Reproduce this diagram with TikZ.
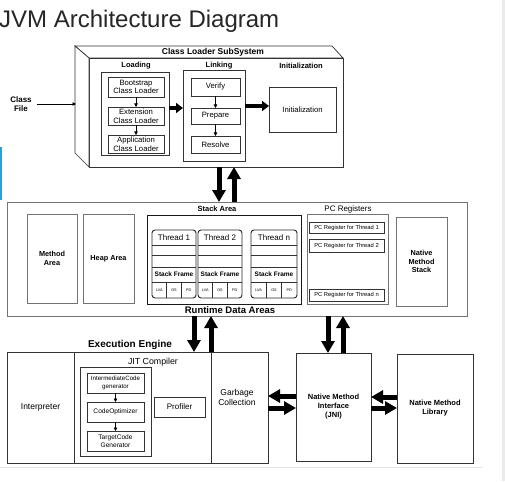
\documentclass[tikz,border=0pt]{standalone}
\usepackage{fontspec}
\setmainfont{Liberation Sans}
\usetikzlibrary{arrows.meta}
\definecolor{edgeblue}{RGB}{41,160,216}
% box from corners: [style]{name}{x1}{y1}{x2}{y2}{text}
\newcommand\bx[7][]{%
  \pgfmathsetmacro\bxcx{(#3+#5)/2}%
  \pgfmathsetmacro\bxcy{(#4+#6)/2}%
  \pgfmathsetmacro\bxw{#5-#3}%
  \pgfmathsetmacro\bxh{#6-#4}%
  \node[box,#1,minimum width=\bxw pt,minimum height=\bxh pt] (#2) at (\bxcx,\bxcy) {#7};%
}
\newcommand\jvmthread[4]{%
  \pgfmathsetmacro\tha{#2+(#3-#2)/3}%
  \pgfmathsetmacro\thb{#2+2*(#3-#2)/3}%
  \bx[row, font=\fontsize{8}{9}\selectfont]{#1h}{#2}{230}{#3}{245}{#4}
  \bx[row]{#1r1}{#2}{245}{#3}{255}{}
  \bx[row]{#1r2}{#2}{255}{#3}{267}{}
  \bx[row, font=\fontsize{6.5}{7}\selectfont\bfseries]{#1sf}{#2}{267}{#3}{282}{Stack Frame}
  \bx[row, font=\fontsize{3.8}{4}\selectfont]{#1a}{#2}{282}{\tha}{298}{LVA}
  \bx[row, font=\fontsize{3.8}{4}\selectfont]{#1b}{\tha}{282}{\thb}{298}{OS}
  \bx[row, font=\fontsize{3.8}{4}\selectfont]{#1c}{\thb}{282}{#3}{298}{PD}
  \draw[thinline] (#1h.south west) -- (#1h.south east);
  \draw[thinline] (#1r1.south west) -- (#1r1.south east);
  \draw[thinline] (#1r2.south west) -- (#1r2.south east);
  \draw[thinline] (#1sf.south west) -- (#1sf.south east);
  \draw[thinline] (#1a.north east) -- (#1a.south east);
  \draw[thinline] (#1b.north east) -- (#1b.south east);
  \draw[draw=black!85, line width=0.9pt, rounded corners=3pt] (#1h.north west) -- (#1a.south west) -- (#1c.south east) -- (#1h.north east) -- cycle;
}
\begin{document}
\begin{tikzpicture}[x=1pt,y=-1pt,
  box/.style={draw=black!80, line width=0.7pt, inner sep=0pt, outer sep=0pt, align=center, font=\fontsize{7.7}{8.6}\selectfont},
  gbox/.style={draw=black!55, line width=0.8pt, font=\fontsize{7.3}{8.7}\selectfont\bfseries},
  row/.style={draw=none},
  thinline/.style={draw=black!80, line width=0.6pt},
  lbl/.style={inner sep=0pt, align=center, font=\fontsize{7.5}{8.5}\selectfont\bfseries},
  txt/.style={inner sep=0pt, align=center, font=\fontsize{8.5}{10}\selectfont},
  bigarr/.style={line width=5pt, -{Triangle[width=13pt,length=12pt]}},
  midarr/.style={line width=4pt, -{Triangle[width=10pt,length=7pt]}},
  smarr/.style={line width=0.6pt, -{Triangle[width=3.5pt,length=3.5pt]}},
]
\useasboundingbox (0,0) rectangle (505,481);
\fill[white] (0,0) rectangle (505,481);
\fill[black!8] (502,0) rectangle (505,481);
\draw[black!10, line width=0.6pt] (0,467) -- (482,467);
\fill[edgeblue] (0,147) rectangle (2,200);

\node[anchor=base west, inner sep=0pt, font=\fontsize{24}{26}\selectfont, text=black!85] (title) at (-1,28) {JVM Architecture Diagram};

% ---------- Class loader subsystem ----------
\bx{cl}{89}{58}{343}{167}{}
\filldraw[fill=white, draw=black!80, line width=0.7pt] (75,46) -- (332,46) -- (cl.north east) -- (cl.north west) -- cycle;
\filldraw[fill=white, draw=black!80, line width=0.7pt] (75,46) -- (cl.north west) -- (cl.south west) -- (75,153) -- cycle;
\node[lbl, font=\fontsize{8.5}{9}\selectfont\bfseries] (clt) at (213,52) {Class Loader SubSystem};

\node[lbl] (loadt) at (136,66) {Loading};
\bx{loading}{101}{72}{169}{155}{}
\bx{boot}{108}{77}{164}{97}{Bootstrap\\Class Loader}
\bx{ext}{108}{107}{164}{125}{Extension\\Class Loader}
\bx{app}{108}{135}{164}{153}{Application\\Class Loader}
\draw[smarr] (boot) -- (ext);
\draw[smarr] (ext) -- (app);

\node[lbl] (linkt) at (219,66) {Linking};
\bx{linking}{183}{70}{245}{161}{}
\bx{verify}{191}{78}{240}{96}{Verify}
\bx{prepare}{191}{108}{240}{124}{Prepare}
\bx{resolve}{191}{136}{240}{153}{Resolve}
\draw[smarr] (verify) -- (prepare);
\draw[smarr] (prepare) -- (resolve);

\node[lbl] (initt) at (301,66) {Initialization};
\bx{init}{269}{87}{336}{132}{Initialization}

\draw[midarr] (loading.east |- 0,108) -- (linking.west |- 0,108);
\draw[midarr] (linking.east |- 0,106) -- (init.west |- 0,106);

\node[lbl, font=\fontsize{8}{9.5}\selectfont\bfseries] (cf) at (21,104) {Class\\File};
\coordinate (lf) at (76,104);
\draw[smarr] (37,104) -- (lf);

% ---------- Runtime data areas ----------
\bx[gbox]{rt}{7}{202}{467}{316}{}
\node[lbl, font=\fontsize{9.5}{11}\selectfont\bfseries] (rtt) at (230,310) {Runtime Data Areas};

\bx[gbox]{method}{27}{214}{77}{303}{Method\\Area}
\bx[gbox]{heap}{83}{214}{134}{303}{Heap Area}

\node[lbl] (stackt) at (217,209) {Stack Area};
\bx[draw=black!90]{stack}{147}{215}{301}{304}{}
\jvmthread{ta}{152}{196}{Thread 1}
\jvmthread{tb}{198}{242}{Thread 2}
\jvmthread{tc}{251}{297}{Thread n}

\node[lbl, font=\fontsize{8}{9}\selectfont] (pct) at (348,209) {PC Registers};
\bx[gbox]{pc}{307}{214}{388}{304}{}
\bx[font=\fontsize{5.8}{6.5}\selectfont]{pc1}{309}{222}{384}{233}{PC Register for Thread 1}
\bx[font=\fontsize{5.8}{6.5}\selectfont]{pc2}{309}{239}{384}{252}{PC Register for Thread 2}
\bx[font=\fontsize{5.8}{6.5}\selectfont]{pcn}{309}{289}{384}{301}{PC Register for Thread n}

\bx[gbox]{nms}{396}{217}{447}{306}{Native\\Method\\Stack}

\draw[bigarr] (cl.south -| 219,0) -- (rt.north -| 219,0);
\draw[bigarr] (rt.north -| 234,0) -- (cl.south -| 234,0);

% ---------- Execution engine ----------
\node[lbl, font=\fontsize{10}{12}\selectfont\bfseries] (eet) at (130,345) {Execution Engine};
\bx[font=\fontsize{8.5}{10}\selectfont]{interp}{7}{352}{74}{463}{Interpreter}
\bx{jit}{74}{352}{211}{463}{}
\bx{gc}{211}{352}{268}{463}{}
\node[txt] (gct) at (237,397) {Garbage\\Collection};
\node[txt, font=\fontsize{8.8}{10}\selectfont] (jitt) at (153,362) {JIT Compiler};
\bx{jitin}{80}{367}{151}{456}{}
\bx[font=\fontsize{6.2}{7.4}\selectfont]{icg}{87}{373}{144}{393}{IntermediateCode\\generator}
\bx[font=\fontsize{6.6}{7.6}\selectfont]{opt}{87}{402}{144}{422}{CodeOptimizer}
\bx[font=\fontsize{6.6}{7.6}\selectfont]{tcg}{87}{431}{144}{451}{TargetCode\\Generator}
\draw[smarr] (icg) -- (opt);
\draw[smarr] (opt) -- (tcg);
\bx[font=\fontsize{8}{9}\selectfont]{prof}{154}{397}{205}{417}{Profiler}

\bx[font=\fontsize{7.5}{9}\selectfont\bfseries]{jni}{296}{353}{371}{461}{Native Method\\Interface\\(JNI)}
\bx[font=\fontsize{7.5}{9}\selectfont\bfseries]{nml}{397}{354}{473}{463}{Native Method\\Library}

\draw[bigarr] (rt.south -| 194,0) -- (jit.north -| 194,0);
\draw[bigarr] (jit.north -| 211,0) -- (rt.south -| 211,0);
\draw[bigarr] (rt.south -| 328,0) -- (jni.north -| 328,0);
\draw[bigarr] (jni.north -| 343,0) -- (rt.south -| 343,0);

\draw[bigarr] (jni.west |- 0,396) -- (gc.east |- 0,396);
\draw[bigarr] (gc.east |- 0,408) -- (jni.west |- 0,408);
\draw[bigarr] (nml.west |- 0,397) -- (jni.east |- 0,397);
\draw[bigarr] (jni.east |- 0,408) -- (nml.west |- 0,408);
\end{tikzpicture}
\end{document}
